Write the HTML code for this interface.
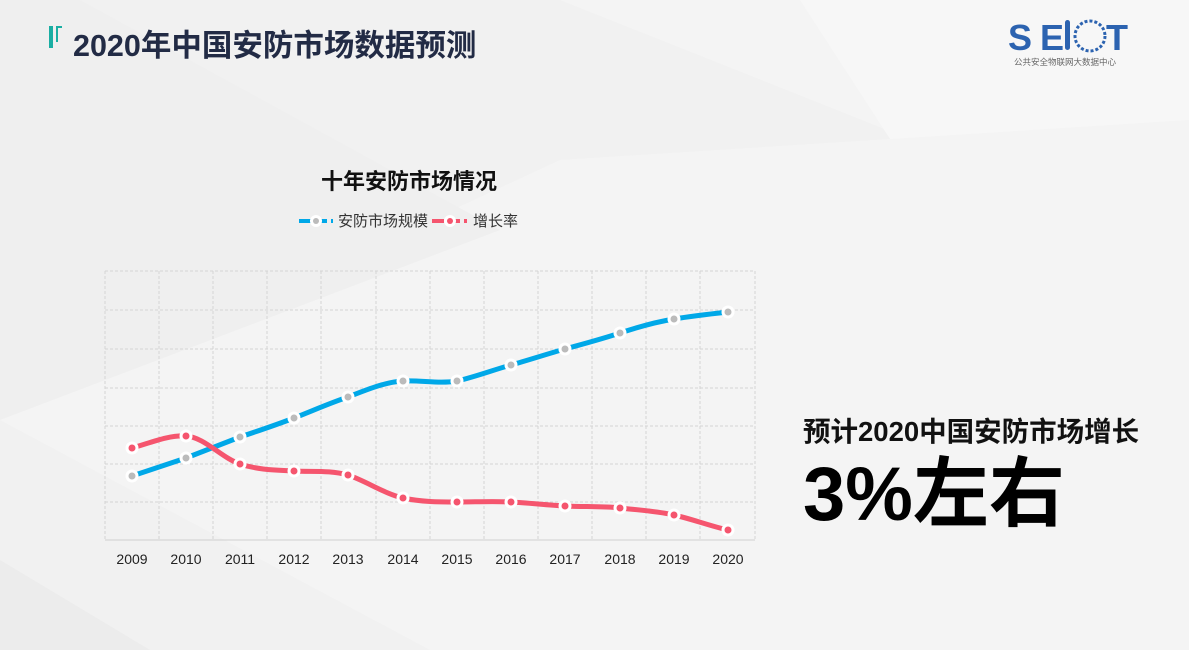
<!DOCTYPE html>
<html><head><meta charset="utf-8"><style>
body{margin:0;width:1189px;height:650px;overflow:hidden;background:#f2f2f2;font-family:"Liberation Sans","Noto Sans CJK SC",sans-serif;}
</style></head><body>
<svg width="1189" height="650" xmlns="http://www.w3.org/2000/svg" style="position:absolute;left:0;top:0">
<rect width="1189" height="650" fill="#f1f1f1"/>
<polygon points="0,0 1189,0 1189,250 560,0" fill="#f4f4f4"/>
<polygon points="800,0 1189,0 1189,600" fill="#f7f7f7"/>
<polygon points="0,420 560,160 1189,120 1189,650 430,650" fill="#f4f4f4"/>
<polygon points="0,0 80,0 500,230 0,420" fill="#efefef"/>
<polygon points="0,560 150,650 0,650" fill="#ececec"/>
<!-- title -->
<rect x="49" y="26" width="4" height="22" fill="#1aaea3"/>
<rect x="56" y="26" width="2" height="16" fill="#1aaea3"/>
<rect x="56" y="26" width="6" height="2" fill="#1aaea3"/>
<text x="73" y="56" font-size="30.5" font-weight="bold" fill="#222b45">2020年中国安防市场数据预测</text>
<!-- logo -->
<text x="1008" y="50" font-size="36" font-weight="bold" fill="#2c63b0" letter-spacing="8" font-family="Liberation Sans,sans-serif">SE</text>
<rect x="1065" y="20" width="5" height="30" rx="2.5" fill="#2c63b0"/>
<circle cx="1090" cy="36" r="15" fill="none" stroke="#2c63b0" stroke-width="3" stroke-dasharray="3 2"/>
<text x="1106" y="50" font-size="36" font-weight="bold" fill="#2c63b0" font-family="Liberation Sans,sans-serif">T</text>
<text x="1014" y="65" font-size="8.5" fill="#666">公共安全物联网大数据中心</text>
<!-- chart title / legend -->
<text x="409" y="189" font-size="22" font-weight="bold" fill="#111" text-anchor="middle">十年安防市场情况</text>
<line x1="299" y1="221" x2="333" y2="221" stroke="#00a8e8" stroke-width="4" stroke-dasharray="12 4"/>
<circle cx="316" cy="221" r="6" fill="#fff"/><circle cx="316" cy="221" r="3" fill="#bbb"/>
<text x="338" y="226" font-size="15" fill="#333">安防市场规模</text>
<line x1="432" y1="221" x2="467" y2="221" stroke="#f5556e" stroke-width="4" stroke-dasharray="12 4"/>
<circle cx="450" cy="221" r="6" fill="#fff"/><circle cx="450" cy="221" r="3" fill="#f5556e"/>
<text x="473" y="226" font-size="15" fill="#333">增长率</text>
<!-- grid -->
<g stroke="#d4d4d4" stroke-dasharray="3 2" fill="none">
<line x1="105" y1="271" x2="755" y2="271"/><line x1="105" y1="310" x2="755" y2="310"/>
<line x1="105" y1="349" x2="755" y2="349"/><line x1="105" y1="388" x2="755" y2="388"/>
<line x1="105" y1="426" x2="755" y2="426"/><line x1="105" y1="464" x2="755" y2="464"/>
<line x1="105" y1="502" x2="755" y2="502"/>
<line x1="105" y1="271" x2="105" y2="540"/><line x1="159" y1="271" x2="159" y2="540"/>
<line x1="213" y1="271" x2="213" y2="540"/><line x1="267" y1="271" x2="267" y2="540"/>
<line x1="321" y1="271" x2="321" y2="540"/><line x1="376" y1="271" x2="376" y2="540"/>
<line x1="430" y1="271" x2="430" y2="540"/><line x1="484" y1="271" x2="484" y2="540"/>
<line x1="538" y1="271" x2="538" y2="540"/><line x1="592" y1="271" x2="592" y2="540"/>
<line x1="646" y1="271" x2="646" y2="540"/><line x1="700" y1="271" x2="700" y2="540"/>
<line x1="755" y1="271" x2="755" y2="540"/>
</g>
<line x1="105" y1="540" x2="755" y2="540" stroke="#cfcfcf"/>
<g font-size="14" fill="#222" text-anchor="middle">
<text x="132" y="564">2009</text><text x="186" y="564">2010</text><text x="240" y="564">2011</text><text x="294" y="564">2012</text><text x="348" y="564">2013</text><text x="403" y="564">2014</text><text x="457" y="564">2015</text><text x="511" y="564">2016</text><text x="565" y="564">2017</text><text x="620" y="564">2018</text><text x="674" y="564">2019</text><text x="728" y="564">2020</text>
</g>
<path d="M132,476 C150,470 168,464 186,458 C204,451 222,444 240,437 C258,431 276,425 294,418 C312,411 330,403 348,397 C366,390 385,382 403,381 C421,380 439,384 457,381 C475,377 493,370 511,365 C529,360 547,354 565,349 C583,344 602,339 620,333 C638,327 656,322 674,319 C692,316 710,314 728,312" fill="none" stroke="#00a8e8" stroke-width="5"/>
<path d="M132,448 C150,443 168,435 186,436 C204,437 222,458 240,464 C258,470 276,470 294,471 C312,472 330,470 348,475 C366,481 385,494 403,498 C421,502 439,502 457,502 C475,502 493,501 511,502 C529,503 547,505 565,506 C583,507 602,506 620,508 C638,510 656,511 674,515 C692,519 710,526 728,530" fill="none" stroke="#f5556e" stroke-width="5"/>
<g fill="#bbb" stroke="#fff" stroke-width="3">
<circle cx="132" cy="476" r="5"/><circle cx="186" cy="458" r="5"/><circle cx="240" cy="437" r="5"/><circle cx="294" cy="418" r="5"/><circle cx="348" cy="397" r="5"/><circle cx="403" cy="381" r="5"/><circle cx="457" cy="381" r="5"/><circle cx="511" cy="365" r="5"/><circle cx="565" cy="349" r="5"/><circle cx="620" cy="333" r="5"/><circle cx="674" cy="319" r="5"/><circle cx="728" cy="312" r="5"/>
</g>
<g fill="#f5556e" stroke="#fff" stroke-width="3">
<circle cx="132" cy="448" r="5"/><circle cx="186" cy="436" r="5"/><circle cx="240" cy="464" r="5"/><circle cx="294" cy="471" r="5"/><circle cx="348" cy="475" r="5"/><circle cx="403" cy="498" r="5"/><circle cx="457" cy="502" r="5"/><circle cx="511" cy="502" r="5"/><circle cx="565" cy="506" r="5"/><circle cx="620" cy="508" r="5"/><circle cx="674" cy="515" r="5"/><circle cx="728" cy="530" r="5"/>
</g>
<text x="803" y="441" font-size="27.5" font-weight="bold" fill="#111">预计2020中国安防市场增长</text>
<text x="803" y="520" font-size="76" font-weight="bold" fill="#000">3%左右</text>
</svg>
</body></html>
